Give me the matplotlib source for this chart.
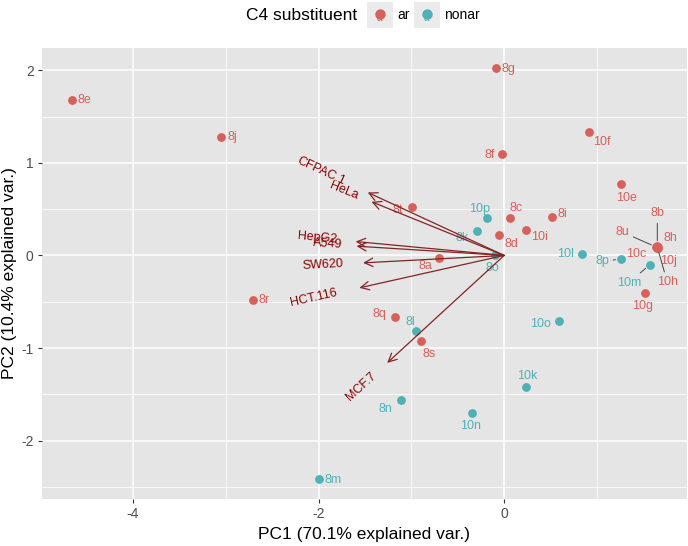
import math
import matplotlib.pyplot as plt
from matplotlib.patches import Rectangle
from matplotlib.lines import Line2D
from matplotlib.textpath import TextPath
from matplotlib.font_manager import FontProperties

plt.rcParams['font.family'] = ['Liberation Sans', 'DejaVu Sans']
plt.rcParams['axes.unicode_minus'] = False

# PCA scores
ar_names = ['8e', '8j', '8g', '8f', '10f', '10e', '8i', '10i', '8c', '8d', '8t',
            '8a', '8r', '8q', '8s', '8b', '8u', '8h', '10c', '10j', '10h', '10g']
ar_pc1 = [-4.66, -3.05, -0.09, -0.02, 0.91, 1.26, 0.52, 0.24, 0.06, -0.06, -0.99,
          -0.70, -2.71, -1.18, -0.90, 1.65, 1.64, 1.66, 1.65, 1.66, 1.65, 1.52]
ar_pc2 = [1.68, 1.28, 2.02, 1.09, 1.33, 0.77, 0.42, 0.28, 0.40, 0.22, 0.52,
          -0.03, -0.48, -0.66, -0.92, 0.10, 0.09, 0.09, 0.08, 0.08, 0.09, -0.41]

nonar_names = ['8o', '10p', '8k', '10l', '8p', '10m', '10o', '10k', '10n', '8n', '8l', '8m']
nonar_pc1 = [-0.10, -0.19, -0.29, 0.84, 1.26, 1.57, 0.59, 0.24, -0.35, -1.11, -0.95, -2.00]
nonar_pc2 = [0.01, 0.40, 0.26, 0.02, -0.04, -0.10, -0.71, -1.42, -1.70, -1.56, -0.82, -2.41]

# variable loadings (arrows)
cell_lines = ['CFPAC.1', 'HeLa', 'HepG2', 'A549', 'SW620', 'HCT.116', 'MCF.7']
load_pc1 = [-1.47, -1.43, -1.60, -1.59, -1.52, -1.56, -1.26]
load_pc2 = [0.68, 0.58, 0.15, 0.10, -0.08, -0.35, -1.16]

col_ar = '#D7605B'
col_nonar = '#4FB1B6'

# label placement (pixel offsets, y down), a la ggrepel
lab_off = {
    '8e': (6, 0, 'left'), '8j': (6, 0, 'left'), '8g': (6, 1, 'left'), '8r': (6, 0, 'left'),
    '8m': (6, 1, 'left'), '8i': (5, -3, 'left'), '8f': (-7, 1, 'right'), '10l': (-8, 0, 'right'),
    '10f': (13, 10, 'center'), '10e': (5, 14, 'center'), '10i': (13, 7, 'center'),
    '8c': (6, -10, 'center'), '8d': (13, 9, 'center'), '8o': (-3, 13, 'center'),
    '10p': (-7, -9, 'center'), '8k': (-15, 7, 'center'), '8t': (-15, 3, 'center'),
    '8a': (-14, 8, 'center'), '8q': (-15, -3, 'center'), '8l': (-6, -9, 'center'),
    '8s': (8, 13, 'center'), '8n': (-16, 9, 'center'), '10n': (-1, 13, 'center'),
    '10o': (-18, 3, 'center'), '10k': (1, -11, 'center'), '8b': (0, -33, 'center'),
    '8u': (-34, -15, 'center'), '8h': (12, -9, 'center'), '10c': (-21, 6, 'center'),
    '10j': (10, 13, 'center'), '10h': (10, 35, 'center'), '10m': (-21, 18, 'center'),
    '10g': (-3, 13, 'center'), '8p': (-19, 2, 'center'),
}
with_segment = {'8b', '8u', '10h', '10m', '8p'}

fig = plt.figure(figsize=(6.88, 5.46), dpi=100)
ax = fig.add_axes([42 / 688, 1 - 499 / 546, 645 / 688, 451 / 546])
ax.set_facecolor('#E5E5E5')
for s in ax.spines.values():
    s.set_visible(False)

ax.set_xlim(-4.98, 1.97)
ax.set_ylim(-2.63, 2.24)
ax.set_xticks([-4, -2, 0])
ax.set_xticks([-3, -1, 1], minor=True)
ax.set_yticks([-2, -1, 0, 1, 2])
ax.set_yticks([-2.5, -1.5, -0.5, 0.5, 1.5], minor=True)
ax.grid(which='major', color='white', lw=1.1)
ax.grid(which='minor', color='white', lw=0.55)
ax.set_axisbelow(True)
ax.tick_params(which='major', length=3, width=0.8, color='#333333',
               labelsize=10, labelcolor='#4D4D4D', pad=3)
ax.tick_params(which='minor', length=0)

ax.set_xlabel('PC1 (70.1% explained var.)', fontsize=12.5, labelpad=4)
ax.set_ylabel('PC2 (10.4% explained var.)', fontsize=12.5, labelpad=3)

ax.scatter(ar_pc1, ar_pc2, s=40, color=col_ar, zorder=3, linewidths=0)
ax.scatter(nonar_pc1, nonar_pc2, s=40, color=col_nonar, zorder=3, linewidths=0)


def put_labels(names, xs, ys, col):
    for n, x, y in zip(names, xs, ys):
        dx, dy, ha = lab_off[n]
        props = None
        if n in with_segment:
            props = dict(arrowstyle='-', color='#444444', lw=0.7, shrinkA=1, shrinkB=4)
        ax.annotate(n, xy=(x, y), xytext=(dx * 0.72, -dy * 0.72), textcoords='offset points',
                    ha=ha, va='center', color=col, fontsize=9, zorder=4, arrowprops=props)


put_labels(ar_names, ar_pc1, ar_pc2, col_ar)
put_labels(nonar_names, nonar_pc1, nonar_pc2, col_nonar)

# loadings arrows + ggbiplot-style rotated labels
fp = FontProperties(family='Liberation Sans', size=9)
for name, x, y in zip(cell_lines, load_pc1, load_pc2):
    ax.annotate('', xy=(x, y), xytext=(0, 0),
                arrowprops=dict(arrowstyle='->,head_length=0.6,head_width=0.3', color='#832424',
                                lw=0.9, shrinkA=0, shrinkB=0, mutation_scale=10), zorder=5)
    ang = math.degrees(math.atan(y / x))
    w = TextPath((0, 0), name, prop=fp).get_extents().width
    ox = -0.5 * w * math.cos(math.radians(ang))
    oy = -0.5 * w * math.sin(math.radians(ang))
    ax.annotate(name, xy=(x, y), xytext=(ox, oy), textcoords='offset points',
                rotation=ang, rotation_mode='anchor', ha='right', va='center',
                color='darkred', fontproperties=fp, zorder=6)

# legend on top
fig.text(246 / 688, 1 - 15 / 546, 'C4 substituent', fontsize=12.5, ha='left', va='center')
for x0, col, lab in [(367, col_ar, 'ar'), (414, col_nonar, 'nonar')]:
    fig.add_artist(Rectangle((x0 / 688, 1 - 28 / 546), 26 / 688, 26 / 546,
                             transform=fig.transFigure, facecolor='#EBEBEB', edgecolor='none'))
    fig.add_artist(Line2D([(x0 + 13) / 688], [1 - 14 / 546], transform=fig.transFigure,
                          marker='o', ms=6.5, color=col, lw=0))
    fig.text((x0 + 12) / 688, 1 - 18 / 546, 'a', fontsize=7, color=col, ha='center', va='center')
    fig.text((x0 + 30) / 688, 1 - 15 / 546, lab, fontsize=10, ha='left', va='center')

fig.savefig('out.png', dpi=100)
